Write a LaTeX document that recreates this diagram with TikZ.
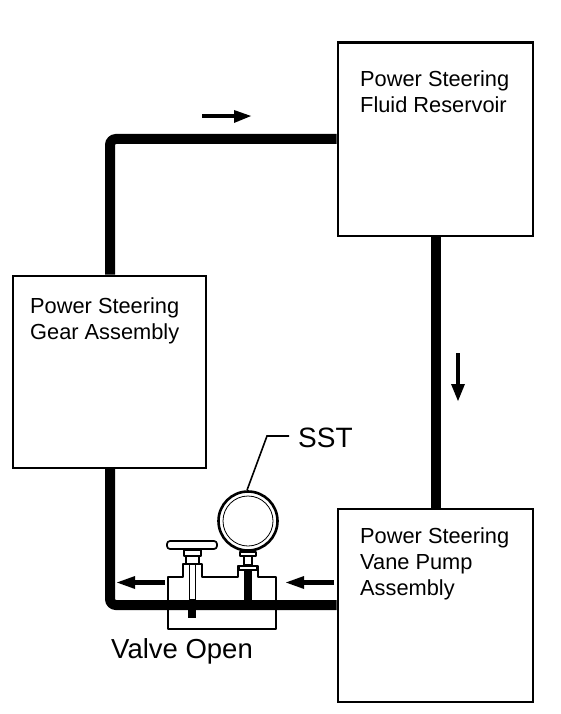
\documentclass[tikz,border=0pt]{standalone}
\usepackage{fontspec}
\setmainfont{Liberation Sans}
\begin{document}
\begin{tikzpicture}[x=1pt,y=-1pt,
 boxn/.style={draw,line width=2.4pt,inner sep=0pt,anchor=north west},
 lbl/.style={inner sep=0pt,anchor=north west,align=left,font=\fontsize{21.8}{26}\selectfont},
 pipe/.style={line width=10pt,rounded corners=6pt},
 thin part/.style={line width=1.7pt,line join=round},
 flow/.style={line width=4.5pt},
 head/.style={fill=black,draw=none}]
\useasboundingbox (0,0) rectangle (560,714);
\coordinate (tl) at (110,139);
\coordinate (bl) at (110,605);
\node[boxn,minimum width=195pt,minimum height=193pt] (res) at (336.5,41.5) {};
\node[boxn,minimum width=193pt,minimum height=192pt] (gear) at (11.5,274.5) {};
\node[boxn,minimum width=195pt,minimum height=193pt] (pump) at (336.5,507.5) {};
% pipes
\draw[line width=10pt] (res.south -| 436,0) -- (pump.north -| 436,0);
\draw[pipe] (gear.north -| tl) -- (tl) -- (res.west |- tl);
\draw[pipe] (gear.south -| bl) -- (bl) -- (pump.west |- bl);
% labels
\node[lbl] (t1) at (360,71) {Power Steering\\Fluid Reservoir};
\node[lbl] (t2) at (30,298) {Power Steering\\Gear Assembly};
\node[lbl] (t3) at (360,527.5) {Power Steering\\Vane Pump\\Assembly};
\node[inner sep=0pt,anchor=base west,font=\fontsize{27.5}{30}\selectfont] (t4) at (111,658) {Valve Open};
\node[inner sep=0pt,anchor=base west,font=\fontsize{28}{30}\selectfont] (sst) at (298,447) {SST};
% flow arrows
\coordinate (a1s) at (202,116); \coordinate (a1e) at (234,116);
\draw[flow] (a1s) -- (a1e);
\fill[head] (234,110) -- (251,116) -- (234,123) -- cycle;
\coordinate (a2s) at (458,353); \coordinate (a2e) at (458,384);
\draw[flow] (a2s) -- (a2e);
\fill[head] (451,384) -- (458,401) -- (465,384) -- cycle;
\coordinate (a3s) at (165,582.5); \coordinate (a3e) at (135,582.5);
\draw[flow] (a3s) -- (a3e);
\fill[head] (135,576) -- (117,582.5) -- (135,589) -- cycle;
\coordinate (a4s) at (334,582.5); \coordinate (a4e) at (304,582.5);
\draw[flow] (a4s) -- (a4e);
\fill[head] (304,576) -- (286,582.5) -- (304,589) -- cycle;
% valve body
\draw[thin part] (168,629) -- (168,577) -- (183,577) -- (183,564) -- (202,564) -- (202,577)
  -- (238,577) -- (238,566) -- (258,566) -- (258,577) -- (276,577) -- (276,629) -- cycle;
% valve stem and handle
\draw[thin part,fill=white] (189.5,562) rectangle (195.5,600);
\fill (188,609) rectangle (196,618);
\draw[thin part,fill=white] (184,550) rectangle (201,556);
\draw[thin part,fill=white] (186,556) rectangle (199,564);
\draw[thin part,fill=white,rounded corners=3pt] (167,541) rectangle (217,549);
% gauge stem
\fill (244,569) rectangle (252,600);
\draw[thin part,fill=white] (239,566) rectangle (257,570);
\draw[thin part,fill=white] (244,555) rectangle (252,565);
\draw[thin part,fill=white] (240,552) rectangle (256,556);
% gauge
\node[circle,draw,line width=2.6pt,fill=white,minimum size=59pt,inner sep=0pt] (gauge) at (248,521) {};
\node[circle,draw,line width=0.8pt,minimum size=50pt,inner sep=0pt] (dial) at (248,521) {};
% leader
\coordinate (bend) at (267,436);
\coordinate (lend) at (289,436);
\draw[line width=1.6pt] (gauge.north) ++(-1,0) -- (bend) -- (lend);
\end{tikzpicture}
\end{document}
